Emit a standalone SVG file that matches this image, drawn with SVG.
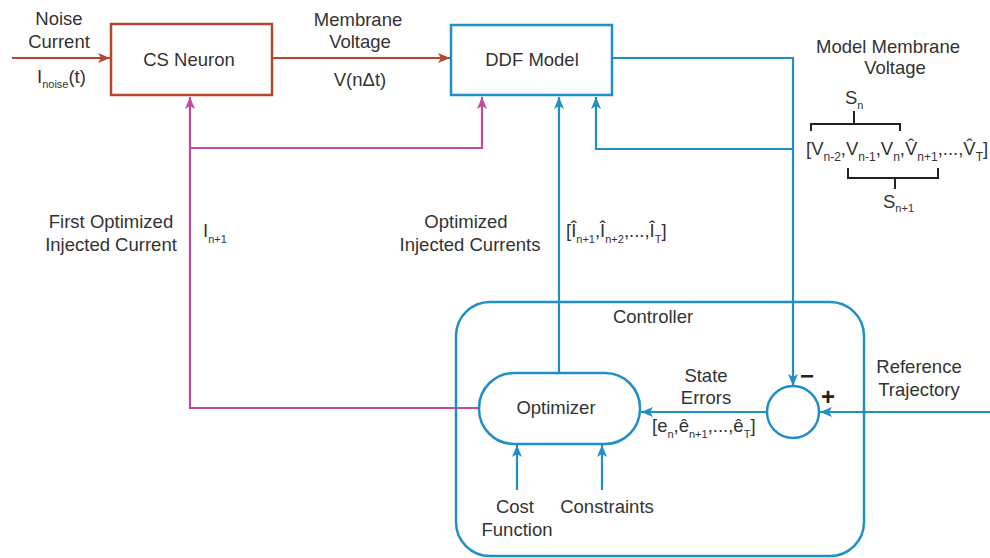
<svg xmlns="http://www.w3.org/2000/svg" width="990" height="558" viewBox="0 0 990 558">
<style>
text{font-family:"Liberation Sans",Arial,sans-serif;font-size:18.5px;fill:#333}
.c{text-anchor:middle}
.sub{font-size:12px}
.sn{font-size:11px}
.pm{font-size:24px;font-weight:bold;fill:#222}
.br{fill:none;stroke:#b5472e;stroke-width:2.5}
.bl{fill:none;stroke:#1f8fc5;stroke-width:2.5}
.lb{fill:none;stroke:#b5472e;stroke-width:2.2}
.lu{fill:none;stroke:#1f8fc5;stroke-width:2.2}
.lm{fill:none;stroke:#c04a9e;stroke-width:2.2}
.blk{fill:none;stroke:#222;stroke-width:2}
</style>
<defs>
<marker id="ab" viewBox="0 0 12 10" refX="12" refY="5" markerWidth="12" markerHeight="10" markerUnits="userSpaceOnUse" orient="auto"><path d="M0,0 L12,5 L0,10 L3,5 z" fill="#b5472e"/></marker>
<marker id="au" viewBox="0 0 12 10" refX="12" refY="5" markerWidth="12" markerHeight="10" markerUnits="userSpaceOnUse" orient="auto"><path d="M0,0 L12,5 L0,10 L3,5 z" fill="#1f8fc5"/></marker>
<marker id="am" viewBox="0 0 12 10" refX="12" refY="5" markerWidth="12" markerHeight="10" markerUnits="userSpaceOnUse" orient="auto"><path d="M0,0 L12,5 L0,10 L3,5 z" fill="#c04a9e"/></marker>
</defs>

<g id="connectors">
<path class="lb" d="M12,58 H110" marker-end="url(#ab)"/>
<path class="lb" d="M273,58 H450" marker-end="url(#ab)"/>
<path class="lu" d="M613,58 H793 V386" marker-end="url(#au)"/>
<path class="lu" d="M793,149 H596 V97" marker-end="url(#au)"/>
<path class="lu" d="M559,373 V97" marker-end="url(#au)"/>
<path class="lu" d="M767,412 H641" marker-end="url(#au)"/>
<path class="lu" d="M990,412 H820" marker-end="url(#au)"/>
<path class="lu" d="M517,490 V445" marker-end="url(#au)"/>
<path class="lu" d="M602,490 V445" marker-end="url(#au)"/>
<path class="lm" d="M479,408 H190 V97" marker-end="url(#am)"/>
<path class="lm" d="M190,148 H482 V97" marker-end="url(#am)"/>
</g>

<g id="cs-neuron">
<rect class="br" x="111" y="24" width="161" height="71"/>
<text class="c" x="189" y="66">CS Neuron</text>
</g>

<g id="ddf-model">
<rect class="bl" x="451" y="25" width="161" height="70"/>
<text class="c" x="532" y="66">DDF Model</text>
</g>

<g id="controller">
<rect class="bl" x="456" y="302" width="408" height="254" rx="34" ry="34"/>
<text class="c" x="653" y="323">Controller</text>
</g>

<g id="optimizer">
<rect class="bl" x="479" y="373" width="161" height="71" rx="35" ry="35"/>
<text class="c" x="556" y="414">Optimizer</text>
</g>

<g id="summer">
<circle class="bl" cx="793" cy="412" r="26"/>
<text class="c pm" x="807" y="384">−</text>
<text class="c pm" x="828" y="405">+</text>
</g>

<g id="labels">
<text class="c" x="59" y="25">Noise</text>
<text class="c" x="59" y="48">Current</text>
<text x="37" y="83">I<tspan class="sn" dy="5">noise</tspan><tspan dy="-5">(t)</tspan></text>

<text class="c" x="358" y="26">Membrane</text>
<text class="c" x="360" y="48">Voltage</text>
<text class="c" x="360" y="86">V(nΔt)</text>

<text class="c" x="888" y="53">Model Membrane</text>
<text class="c" x="895" y="74">Voltage</text>

<text x="845" y="104">S<tspan class="sn" dy="5">n</tspan></text>
<path class="blk" d="M854,111 V124 M811,131 V124 H900 V131"/>
<text x="806" y="155">[V<tspan class="sub" dy="6">n-2</tspan><tspan dy="-6">,V</tspan><tspan class="sub" dy="6">n-1</tspan><tspan dy="-6">,V</tspan><tspan class="sub" dy="6">n</tspan><tspan dy="-6">,V̂</tspan><tspan class="sub" dy="6">n+1</tspan><tspan dy="-6">,...,V̂</tspan><tspan class="sub" dy="6">T</tspan><tspan dy="-6">]</tspan></text>
<path class="blk" d="M848,168 V178 H938 V168 M895,178 V189"/>
<text x="883" y="208">S<tspan class="sn" dy="4">n+1</tspan></text>

<text class="c" x="111" y="228">First Optimized</text>
<text class="c" x="111" y="251">Injected Current</text>
<text x="203" y="237">I<tspan class="sn" dy="6">n+1</tspan></text>

<text class="c" x="466" y="228">Optimized</text>
<text class="c" x="470" y="251">Injected Currents</text>
<text x="566" y="237">[Î<tspan class="sn" dy="6">n+1</tspan><tspan dy="-6">,Î</tspan><tspan class="sn" dy="6">n+2</tspan><tspan dy="-6">,...,Î</tspan><tspan class="sn" dy="6">T</tspan><tspan dy="-6">]</tspan></text>

<text class="c" x="706" y="382">State</text>
<text class="c" x="706" y="404">Errors</text>
<text x="652" y="432">[e<tspan class="sn" dy="6">n</tspan><tspan dy="-6">,ê</tspan><tspan class="sn" dy="6">n+1</tspan><tspan dy="-6">,...,ê</tspan><tspan class="sn" dy="6">T</tspan><tspan dy="-6">]</tspan></text>

<text class="c" x="919" y="373">Reference</text>
<text class="c" x="919" y="396">Trajectory</text>

<text class="c" x="515" y="513">Cost</text>
<text class="c" x="517" y="536">Function</text>
<text class="c" x="607" y="513">Constraints</text>
</g>
</svg>
